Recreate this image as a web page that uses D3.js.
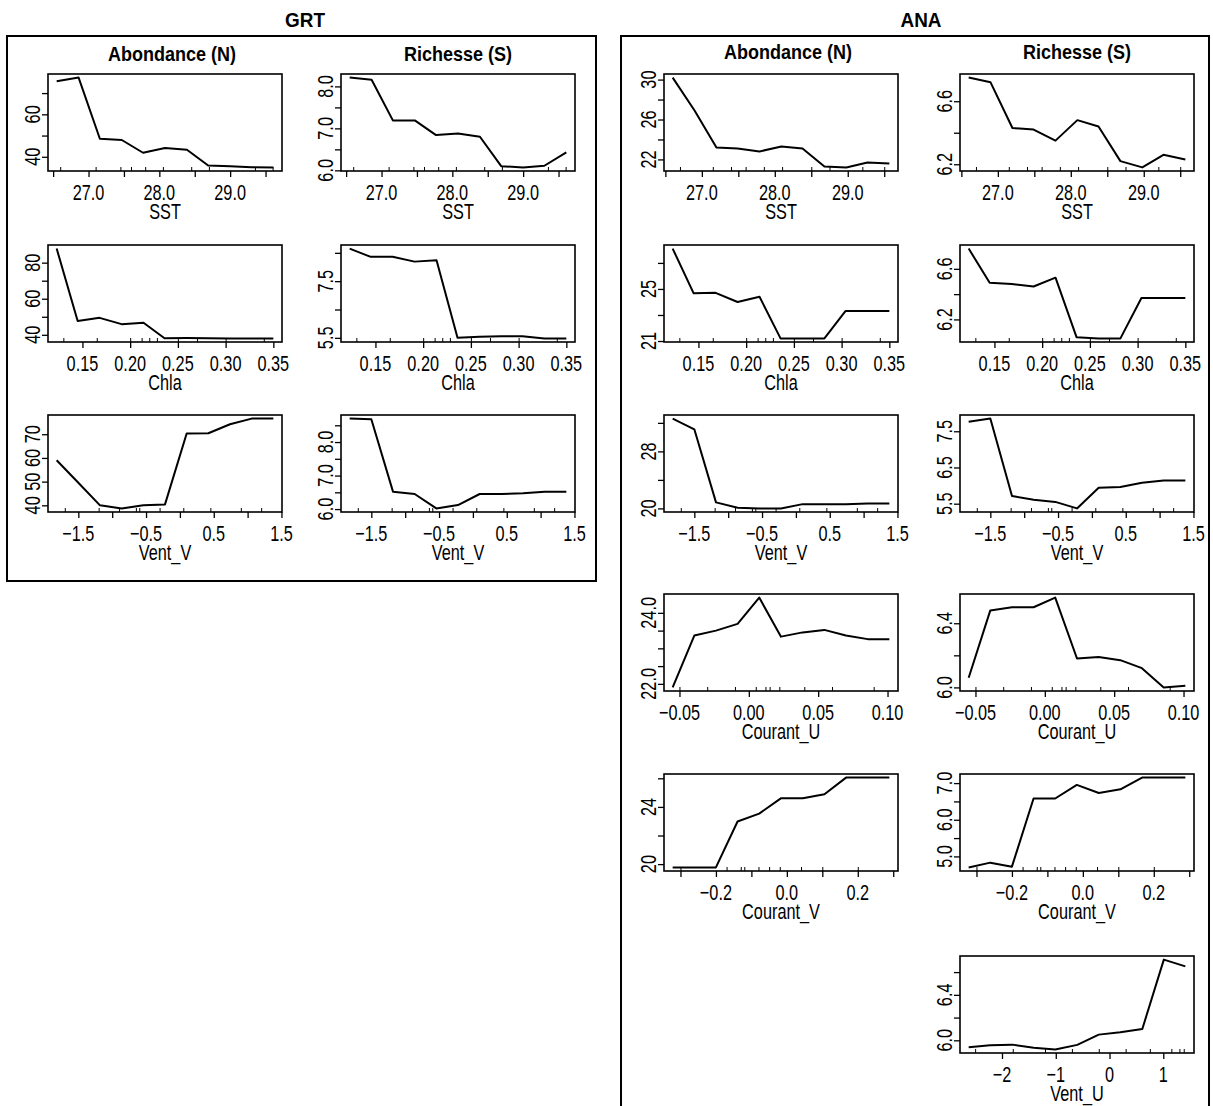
<!DOCTYPE html>
<html><head><meta charset="utf-8">
<script src="https://cdn.jsdelivr.net/npm/d3@7"></script>
<style>
body{margin:0;background:#fff}
svg{display:block}
text{font-family:"Liberation Sans",Arial,sans-serif;fill:#000}
</style>
</head><body>
<svg id="c" width="1213" height="1106"></svg>
<script>
// ---------- x grids (predictor values) ----------
const grtSST     = [26.55, 26.86, 27.16, 27.47, 27.77, 28.08, 28.39, 28.69, 29.00, 29.30, 29.61];
const anaSST     = [26.60, 26.90, 27.20, 27.49, 27.79, 28.09, 28.38, 28.68, 28.98, 29.27, 29.57];
const chlaGrid   = [0.123, 0.145, 0.168, 0.191, 0.214, 0.236, 0.259, 0.282, 0.304, 0.327, 0.350];
const ventVGrid  = [-1.82, -1.50, -1.18, -0.86, -0.54, -0.22, 0.10, 0.42, 0.74, 1.06, 1.38];
const courantUGrid = [-0.0549, -0.0393, -0.0237, -0.0081, 0.0075, 0.0232, 0.0388, 0.0544, 0.0700, 0.0857, 0.1013];
const courantVGrid = [-0.322, -0.261, -0.200, -0.139, -0.078, -0.017, 0.045, 0.106, 0.167, 0.228, 0.289];
const ventUGrid  = [-2.62, -2.22, -1.81, -1.41, -1.01, -0.60, -0.20, 0.20, 0.61, 1.01, 1.41];

// ---------- GRT responses ----------
const grtN_SST   = [75.6, 77.3, 48.5, 47.9, 41.9, 44.1, 43.3, 35.9, 35.6, 35.1, 35.0];
const grtS_SST   = [8.21, 8.16, 7.19, 7.19, 6.84, 6.88, 6.80, 6.10, 6.07, 6.11, 6.43];
const grtN_Chla  = [87.8, 47.6, 49.4, 45.9, 46.7, 38.1, 38.2, 38.1, 38.0, 38.0, 38.0];
const grtS_Chla  = [8.65, 8.36, 8.36, 8.19, 8.24, 5.50, 5.54, 5.56, 5.56, 5.48, 5.48];
const grtN_VentV = [59.0, 49.5, 40.0, 38.7, 40.0, 40.4, 70.3, 70.4, 74.2, 76.6, 76.6];
const grtS_VentV = [8.70, 8.68, 6.52, 6.45, 6.02, 6.12, 6.45, 6.45, 6.47, 6.52, 6.52];

// ---------- ANA responses ----------
const anaN_SST   = [30.2, 26.9, 23.2, 23.1, 22.8, 23.3, 23.1, 21.3, 21.2, 21.7, 21.6];
const anaS_SST   = [6.75, 6.72, 6.43, 6.42, 6.35, 6.48, 6.44, 6.22, 6.18, 6.26, 6.23];
const anaN_Chla  = [28.1, 24.66, 24.7, 24.0, 24.4, 21.2, 21.2, 21.2, 23.3, 23.3, 23.3];
const anaS_Chla  = [6.76, 6.49, 6.48, 6.46, 6.53, 6.06, 6.05, 6.05, 6.37, 6.37, 6.37];
const anaN_VentV = [32.6, 31.1, 20.85, 20.1, 20.0, 20.0, 20.6, 20.6, 20.6, 20.7, 20.7];
const anaS_VentV = [7.76, 7.85, 5.71, 5.61, 5.55, 5.37, 5.94, 5.96, 6.08, 6.14, 6.14];
const anaN_CourU = [21.9, 23.36, 23.5, 23.69, 24.43, 23.33, 23.45, 23.52, 23.36, 23.26, 23.26];
const anaS_CourU = [6.06, 6.48, 6.50, 6.50, 6.56, 6.18, 6.19, 6.17, 6.12, 6.00, 6.01];
const anaN_CourV = [19.77, 19.77, 19.77, 22.98, 23.53, 24.6, 24.6, 24.88, 26.05, 26.05, 26.05];
const anaS_CourV = [4.70, 4.83, 4.72, 6.58, 6.58, 6.95, 6.73, 6.83, 7.15, 7.15, 7.15];
const anaS_VentU = [5.94, 5.956, 5.962, 5.935, 5.92, 5.96, 6.05, 6.07, 6.10, 6.71, 6.65];

// ---------- x ticks / labels ----------
const sstTicks = [26.5, 27.0, 27.5, 28.0, 28.5, 29.0, 29.5];
const sstLabels = [27.0, 28.0, 29.0];
const chlaTicks = [0.15, 0.20, 0.25, 0.30, 0.35];
const ventVTicks = [-1.5, -1.0, -0.5, 0.0, 0.5, 1.0, 1.5];
const ventVLabels = [-1.5, -0.5, 0.5, 1.5];
const courantUTicks = [-0.05, 0.00, 0.05, 0.10];
const courantVTicks = [-0.3, -0.2, -0.1, 0.0, 0.1, 0.2, 0.3];
const courantVLabels = [-0.2, 0.0, 0.2];
const ventUTicks = [-2, -1, 0, 1];

// ---------- rug (deciles of predictors) ----------
const grtSSTRug = [26.6, 27.1, 27.45, 27.6, 27.8, 28.05, 28.45, 28.7, 29.35, 29.6];
const anaSSTRug = [26.7, 27.15, 27.4, 27.6, 27.85, 28.1, 28.5, 28.75, 29.2, 29.5];
const chlaRug = [0.13, 0.165, 0.2, 0.212, 0.22, 0.228, 0.25, 0.27, 0.3, 0.34];
const ventVRug = [-1.7, -1.2, -0.9, -0.65, -0.6, -0.3, 0.05, 0.45, 0.9, 1.2];
const courantURug = [-0.05, -0.03, -0.01, 0.005, 0.012, 0.015, 0.022, 0.04, 0.06, 0.09];
const courantVRug = [-0.3, -0.17, -0.13, -0.12, -0.08, -0.05, -0.02, 0.04, 0.1, 0.2];
const ventURug = [-2.5, -1.8, -1.2, -0.7, -0.2, 0.3, 0.75, 1.15, 1.3, 1.38];

// ---------- y ticks / labels ----------
const yT_grtN_SST = [40, 50, 60, 70],            yL_grtN_SST = [40, 60];
const yT_grtS_SST = [6.0, 6.5, 7.0, 7.5, 8.0],   yL_grtS_SST = [6.0, 7.0, 8.0];
const yT_grtN_Chla = [40, 50, 60, 70, 80],       yL_grtN_Chla = [40, 60, 80];
const yT_grtS_Chla = [5.5, 6.5, 7.5, 8.5],       yL_grtS_Chla = [5.5, 7.5];
const yT_grtN_VentV = [40, 50, 60, 70],          yL_grtN_VentV = [40, 50, 60, 70];
const yT_grtS_VentV = [6.0, 6.5, 7.0, 7.5, 8.0, 8.5], yL_grtS_VentV = [6.0, 7.0, 8.0];
const yT_anaN_SST = [22, 24, 26, 28, 30],        yL_anaN_SST = [22, 26, 30];
const yT_anaS_SST = [6.2, 6.4, 6.6],             yL_anaS_SST = [6.2, 6.6];
const yT_anaN_Chla = [21, 23, 25, 27],           yL_anaN_Chla = [21, 25];
const yT_anaS_Chla = [6.2, 6.4, 6.6],            yL_anaS_Chla = [6.2, 6.6];
const yT_anaN_VentV = [20, 24, 28, 32],          yL_anaN_VentV = [20, 28];
const yT_anaS_VentV = [5.5, 6.5, 7.5],           yL_anaS_VentV = [5.5, 6.5, 7.5];
const yT_anaN_CourU = [22.0, 22.5, 23.0, 23.5, 24.0], yL_anaN_CourU = [22.0, 24.0];
const yT_anaS_CourU = [6.0, 6.2, 6.4],           yL_anaS_CourU = [6.0, 6.4];
const yT_anaN_CourV = [20, 22, 24, 26],          yL_anaN_CourV = [20, 24];
const yT_anaS_CourV = [5.0, 5.5, 6.0, 6.5, 7.0], yL_anaS_CourV = [5.0, 6.0, 7.0];
const yT_anaS_VentU = [6.0, 6.2, 6.4, 6.6],      yL_anaS_VentU = [6.0, 6.4];

// ---------- texts ----------
const groupTitles = ["GRT", "ANA"];
const colTitles = ["Abondance (N)", "Richesse (S)"];

// ---------- layout ----------
const W = 1213, H = 1106;
const colLeft = {GRT: [48, 341], ANA: [664, 960]};
const plotW = 234, plotH = 97;
const rowTop = [74, 245, 415, 594, 774, 956];
const FS = 22, SX = 0.74;

const panels = [
  {g:"GRT", c:0, r:0, x:grtSST, y:grtN_SST, xt:sstTicks, xl:sstLabels, xf:".1f", yt:yT_grtN_SST, yl:yL_grtN_SST, yf:"d", lab:"SST", rug:grtSSTRug},
  {g:"GRT", c:1, r:0, x:grtSST, y:grtS_SST, xt:sstTicks, xl:sstLabels, xf:".1f", yt:yT_grtS_SST, yl:yL_grtS_SST, yf:".1f", lab:"SST", rug:grtSSTRug},
  {g:"GRT", c:0, r:1, x:chlaGrid, y:grtN_Chla, xt:chlaTicks, xl:chlaTicks, xf:".2f", yt:yT_grtN_Chla, yl:yL_grtN_Chla, yf:"d", lab:"Chla", rug:chlaRug},
  {g:"GRT", c:1, r:1, x:chlaGrid, y:grtS_Chla, xt:chlaTicks, xl:chlaTicks, xf:".2f", yt:yT_grtS_Chla, yl:yL_grtS_Chla, yf:".1f", lab:"Chla", rug:chlaRug},
  {g:"GRT", c:0, r:2, x:ventVGrid, y:grtN_VentV, xt:ventVTicks, xl:ventVLabels, xf:".1f", yt:yT_grtN_VentV, yl:yL_grtN_VentV, yf:"d", lab:"Vent_V", rug:ventVRug},
  {g:"GRT", c:1, r:2, x:ventVGrid, y:grtS_VentV, xt:ventVTicks, xl:ventVLabels, xf:".1f", yt:yT_grtS_VentV, yl:yL_grtS_VentV, yf:".1f", lab:"Vent_V", rug:ventVRug},

  {g:"ANA", c:0, r:0, x:anaSST, y:anaN_SST, xt:sstTicks, xl:sstLabels, xf:".1f", yt:yT_anaN_SST, yl:yL_anaN_SST, yf:"d", lab:"SST", rug:anaSSTRug},
  {g:"ANA", c:1, r:0, x:anaSST, y:anaS_SST, xt:sstTicks, xl:sstLabels, xf:".1f", yt:yT_anaS_SST, yl:yL_anaS_SST, yf:".1f", lab:"SST", rug:anaSSTRug},
  {g:"ANA", c:0, r:1, x:chlaGrid, y:anaN_Chla, xt:chlaTicks, xl:chlaTicks, xf:".2f", yt:yT_anaN_Chla, yl:yL_anaN_Chla, yf:"d", lab:"Chla", rug:chlaRug},
  {g:"ANA", c:1, r:1, x:chlaGrid, y:anaS_Chla, xt:chlaTicks, xl:chlaTicks, xf:".2f", yt:yT_anaS_Chla, yl:yL_anaS_Chla, yf:".1f", lab:"Chla", rug:chlaRug},
  {g:"ANA", c:0, r:2, x:ventVGrid, y:anaN_VentV, xt:ventVTicks, xl:ventVLabels, xf:".1f", yt:yT_anaN_VentV, yl:yL_anaN_VentV, yf:"d", lab:"Vent_V", rug:ventVRug},
  {g:"ANA", c:1, r:2, x:ventVGrid, y:anaS_VentV, xt:ventVTicks, xl:ventVLabels, xf:".1f", yt:yT_anaS_VentV, yl:yL_anaS_VentV, yf:".1f", lab:"Vent_V", rug:ventVRug},
  {g:"ANA", c:0, r:3, x:courantUGrid, y:anaN_CourU, xt:courantUTicks, xl:courantUTicks, xf:".2f", yt:yT_anaN_CourU, yl:yL_anaN_CourU, yf:".1f", lab:"Courant_U", rug:courantURug},
  {g:"ANA", c:1, r:3, x:courantUGrid, y:anaS_CourU, xt:courantUTicks, xl:courantUTicks, xf:".2f", yt:yT_anaS_CourU, yl:yL_anaS_CourU, yf:".1f", lab:"Courant_U", rug:courantURug},
  {g:"ANA", c:0, r:4, x:courantVGrid, y:anaN_CourV, xt:courantVTicks, xl:courantVLabels, xf:".1f", yt:yT_anaN_CourV, yl:yL_anaN_CourV, yf:"d", lab:"Courant_V", rug:courantVRug},
  {g:"ANA", c:1, r:4, x:courantVGrid, y:anaS_CourV, xt:courantVTicks, xl:courantVLabels, xf:".1f", yt:yT_anaS_CourV, yl:yL_anaS_CourV, yf:".1f", lab:"Courant_V", rug:courantVRug},
  {g:"ANA", c:1, r:5, x:ventUGrid, y:anaS_VentU, xt:ventUTicks, xl:ventUTicks, xf:"d", yt:yT_anaS_VentU, yl:yL_anaS_VentU, yf:".1f", lab:"Vent_U", rug:ventURug}
];

const svg = d3.select("#c");
svg.append("rect").attr("width", W).attr("height", H).attr("fill", "#fff");

function label(parent, x, y, s, o = {}) {
  const rot = o.rot || 0, sx = o.sx || SX;
  const g = parent.append("g").attr("transform", `translate(${x},${y}) rotate(${rot}) scale(${sx},1)`);
  g.append("text").attr("text-anchor", o.anchor || "middle")
    .style("font-size", (o.size || FS) + "px")
    .style("font-weight", o.bold ? "bold" : "normal")
    .text(s);
}

// outer boxes
svg.append("rect").attr("x", 7).attr("y", 36).attr("width", 589).attr("height", 545)
  .attr("fill", "none").attr("stroke", "#000").attr("stroke-width", 2);
svg.append("rect").attr("x", 621).attr("y", 36).attr("width", 588).attr("height", 1090)
  .attr("fill", "none").attr("stroke", "#000").attr("stroke-width", 2);

label(svg, 305, 27, groupTitles[0], {bold: true, size: 21, sx: 0.9});
label(svg, 921, 27, groupTitles[1], {bold: true, size: 21, sx: 0.9});
label(svg, 172, 61, colTitles[0], {bold: true, size: 20, sx: 0.9});
label(svg, 458, 61, colTitles[1], {bold: true, size: 20, sx: 0.9});
label(svg, 788, 59, colTitles[0], {bold: true, size: 20, sx: 0.9});
label(svg, 1077, 59, colTitles[1], {bold: true, size: 20, sx: 0.9});

function pad(ext) { const d = (ext[1] - ext[0]) * 0.04; return [ext[0] - d, ext[1] + d]; }

panels.forEach(p => {
  const x0 = colLeft[p.g][p.c], y0 = rowTop[p.r];
  const g = svg.append("g").attr("transform", `translate(${x0},${y0})`);
  const xs = d3.scaleLinear().domain(pad(d3.extent(p.x))).range([0, plotW]);
  const ys = d3.scaleLinear().domain(pad(d3.extent(p.y))).range([plotH, 0]);
  const xfmt = d3.format(p.xf), yfmt = d3.format(p.yf);

  // x axis ticks (outward)
  const xAx = d3.axisBottom(xs).tickValues(p.xt).tickSize(6).tickFormat("");
  g.append("g").attr("transform", `translate(0,${plotH})`).call(xAx)
    .call(a => { a.select(".domain").remove(); a.selectAll("line").attr("stroke", "#000").attr("stroke-width", 1.3); });
  p.xl.forEach(v => label(g, xs(v), plotH + 29, xfmt(v)));
  label(g, plotW / 2, plotH + 48, p.lab);

  // rug (inward)
  const rAx = d3.axisBottom(xs).tickValues(p.rug).tickSize(-4).tickFormat("");
  g.append("g").attr("transform", `translate(0,${plotH})`).call(rAx)
    .call(a => { a.select(".domain").remove(); a.selectAll("line").attr("stroke", "#000").attr("stroke-width", 1); });

  // y axis ticks
  const yAx = d3.axisLeft(ys).tickValues(p.yt).tickSize(6).tickFormat("");
  g.append("g").call(yAx)
    .call(a => { a.select(".domain").remove(); a.selectAll("line").attr("stroke", "#000").attr("stroke-width", 1.3); });
  p.yl.forEach(v => label(g, -8, ys(v), yfmt(v), {rot: -90}));

  // line
  const line = d3.line().x((d, i) => xs(p.x[i])).y(d => ys(d));
  g.append("path").datum(p.y).attr("d", line).attr("fill", "none")
    .attr("stroke", "#000").attr("stroke-width", 2).attr("stroke-linejoin", "round");

  // plot box
  g.append("rect").attr("width", plotW).attr("height", plotH)
    .attr("fill", "none").attr("stroke", "#000").attr("stroke-width", 1.6);
});
</script>
</body></html>
